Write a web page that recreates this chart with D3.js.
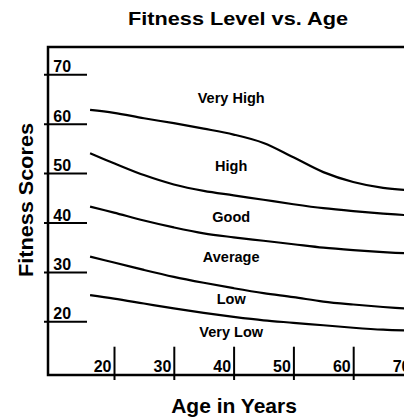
<!DOCTYPE html>
<html>
<head>
<meta charset="utf-8">
<script src="https://cdn.jsdelivr.net/npm/d3@7"></script>
<style>
  html, body { margin: 0; padding: 0; background: #fff; }
  svg { display: block; font-family: "Liberation Sans", Arial, Helvetica, sans-serif; font-weight: bold; }
</style>
</head>
<body>
<svg id="chart" width="404" height="419"></svg>
<script>
// ---- data ----
const ages = [16, 20, 25, 30, 35, 40, 45, 50, 55, 60, 65, 70];
const veryHighLine = [62.8, 62.2, 61.1, 60.1, 59.0, 57.8, 56.1, 53.2, 50.2, 48.2, 47.0, 46.5];
const highLine     = [54.0, 52.0, 49.6, 47.7, 46.4, 45.5, 44.6, 43.7, 42.9, 42.3, 41.8, 41.4];
const goodLine     = [43.2, 42.0, 40.4, 39.0, 37.8, 37.0, 36.3, 35.6, 34.9, 34.4, 34.0, 33.7];
const averageLine  = [33.1, 31.9, 30.4, 29.0, 27.8, 26.7, 25.7, 24.9, 24.0, 23.4, 22.9, 22.5];
const lowLine      = [25.3, 24.6, 23.6, 22.6, 21.7, 20.9, 20.2, 19.7, 19.2, 18.7, 18.3, 18.1];
const levelNames   = ["Very High", "High", "Good", "Average", "Low", "Very Low"];
const levelScores  = [64.2, 50.5, 40.2, 32.1, 23.6, 16.9];
const labelAge = 39.6;
const xTicks = [20, 30, 40, 50, 60, 70];
const yTicks = [20, 30, 40, 50, 60, 70];

// ---- chart ----
const svg = d3.select("#chart");
const x = d3.scaleLinear().domain([20, 70]).range([114, 413]);
const y = d3.scaleLinear().domain([20, 70]).range([321.3, 74.3]);

const frameL = 48, frameT = 47, frameB = 375, frameR = 404;

// frame
svg.append("path")
  .attr("d", `M${frameR},${frameT}H${frameL}V${frameB}H${frameR}`)
  .attr("fill", "none").attr("stroke", "#000").attr("stroke-width", 2.5);

// y ticks
const gy = svg.append("g").attr("transform", "translate(44,0)")
  .call(d3.axisRight(y).tickValues(yTicks).tickSize(43).tickFormat(d => d));
gy.select(".domain").remove();
gy.selectAll(".tick line").attr("stroke", "#000").attr("stroke-width", 2);
gy.selectAll(".tick text")
  .attr("x", 9.3).attr("y", -2.5).attr("dy", 0)
  .attr("text-anchor", "start")
  .attr("font-size", 16).attr("font-weight", "bold")
  .attr("font-family", "Liberation Sans, Arial, sans-serif").attr("fill", "#000");

// x ticks
const gx = svg.append("g").attr("transform", "translate(0,346.7)")
  .call(d3.axisBottom(x).tickValues(xTicks).tickSize(33.3).tickFormat(d => d));
gx.select(".domain").remove();
gx.selectAll(".tick line").attr("stroke", "#000").attr("stroke-width", 2);
gx.selectAll(".tick text")
  .attr("x", -3).attr("y", 25.3).attr("dy", 0)
  .attr("text-anchor", "end")
  .attr("font-size", 16).attr("font-weight", "bold")
  .attr("font-family", "Liberation Sans, Arial, sans-serif").attr("fill", "#000");

// curves
const line = d3.line()
  .x((d, i) => x(ages[i]))
  .y(d => y(d))
  .curve(d3.curveCatmullRom);
[veryHighLine, highLine, goodLine, averageLine, lowLine].forEach(s => {
  svg.append("path").attr("d", line(s))
    .attr("fill", "none").attr("stroke", "#000").attr("stroke-width", 2.2);
});

// level labels
svg.selectAll(".lvl").data(levelNames).enter().append("text")
  .attr("class", "lvl")
  .attr("x", x(labelAge))
  .attr("y", (d, i) => y(levelScores[i]))
  .attr("text-anchor", "middle")
  .attr("font-size", 14.5)
  .text(d => d);

// title
svg.append("text")
  .attr("x", 238).attr("y", 25)
  .attr("text-anchor", "middle")
  .attr("font-size", 18)
  .attr("textLength", 220).attr("lengthAdjust", "spacingAndGlyphs")
  .text("Fitness Level vs. Age");

// axis titles
svg.append("text")
  .attr("x", 234).attr("y", 413)
  .attr("text-anchor", "middle")
  .attr("font-size", 21)
  .text("Age in Years");

svg.append("text")
  .attr("transform", "translate(33,200) rotate(-90)")
  .attr("text-anchor", "middle")
  .attr("font-size", 21)
  .attr("textLength", 154).attr("lengthAdjust", "spacingAndGlyphs")
  .text("Fitness Scores");
</script>
</body>
</html>
